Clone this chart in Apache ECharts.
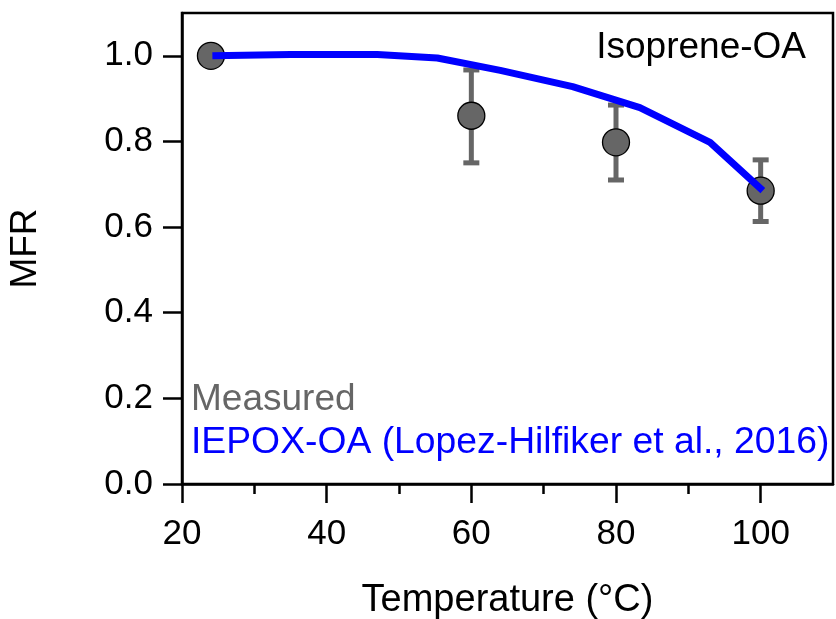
<!DOCTYPE html>
<html>
<head>
<meta charset="utf-8">
<script src="https://cdn.jsdelivr.net/npm/echarts@6/dist/echarts.min.js"></script>
<style>
html,body{margin:0;padding:0;background:#fff;}
#chart{width:836px;height:619px;}
</style>
</head>
<body>
<div id="chart"></div>
<script>
// Measured data
var measuredT = [24, 60, 80, 100];
var measuredMFR = [1.0, 0.86, 0.798, 0.685];
var errLow = [null, 0.750, 0.710, 0.613];
var errHigh = [null, 0.967, 0.885, 0.757];

// IEPOX-OA curve (Lopez-Hilfiker et al., 2016)
var iepoxT = [24.2, 35, 47, 55.3, 64, 74, 83.3, 93, 100.3];
var iepoxMFR = [1.0, 1.003, 1.003, 0.995, 0.966, 0.928, 0.879, 0.798, 0.685];

var xMajorTicks = [20, 40, 60, 80, 100];
var xMinorTicks = [30, 50, 70, 90];
var yTicks = [0, 0.2, 0.4, 0.6, 0.8, 1.0];

var FONT = 'Liberation Sans, Arial, sans-serif';

var chart = echarts.init(document.getElementById('chart'), null, {renderer: 'canvas'});

var errData = [];
for (var i = 0; i < measuredT.length; i++) {
  if (errLow[i] != null) errData.push([measuredT[i], errLow[i], errHigh[i]]);
}
var measData = measuredT.map(function (t, i) { return [t, measuredMFR[i]]; });
var iepoxData = iepoxT.map(function (t, i) { return [t, iepoxMFR[i]]; });

var option = {
  animation: false,
  backgroundColor: '#fff',
  grid: {
    left: 182, right: 3, top: 13, bottom: 135,
    outerBoundsMode: 'none', containLabel: false,
    show: true, borderColor: '#000', borderWidth: 2.5, backgroundColor: 'transparent'
  },
  xAxis: [
    {
      type: 'value', min: 20, max: 110, interval: 20,
      name: 'Temperature (°C)', nameLocation: 'middle', nameGap: 98,
      nameTextStyle: {fontFamily: FONT, fontSize: 38, color: '#000'},
      axisLine: {show: true, lineStyle: {color: '#000', width: 2.5}},
      axisTick: {show: true, inside: false, length: 19, lineStyle: {color: '#000', width: 2.5}, customValues: xMajorTicks},
      axisLabel: {show: true, margin: 33, fontFamily: FONT, fontSize: 35, color: '#000', customValues: xMajorTicks},
      splitLine: {show: false}
    },
    {
      type: 'value', min: 20, max: 110, interval: 10, position: 'bottom',
      axisLine: {show: false},
      axisTick: {show: true, inside: false, length: 10, lineStyle: {color: '#000', width: 2.5}, customValues: xMinorTicks},
      axisLabel: {show: false},
      splitLine: {show: false}
    }
  ],
  yAxis: {
    type: 'value', min: 0, max: 1.1, interval: 0.2,
    name: 'MFR', nameLocation: 'middle', nameGap: 138, nameRotate: 90,
    nameTextStyle: {fontFamily: FONT, fontSize: 37, color: '#000'},
    axisLine: {show: true, lineStyle: {color: '#000', width: 2.5}},
    axisTick: {show: true, inside: false, length: 19, lineStyle: {color: '#000', width: 2.5}, customValues: yTicks},
    axisLabel: {show: true, margin: 29, fontFamily: FONT, fontSize: 35, color: '#000', customValues: yTicks,
      formatter: function (v) { return v.toFixed(1); }},
    splitLine: {show: false}
  },
  series: [
    {
      type: 'custom', name: 'err', z: 2,
      data: errData,
      renderItem: function (params, api) {
        var x = api.value(0);
        var lo = api.coord([x, api.value(1)]);
        var hi = api.coord([x, api.value(2)]);
        var cw = 8;
        var style = {stroke: '#666666', lineWidth: 5, fill: null};
        return {
          type: 'group',
          children: [
            {type: 'line', shape: {x1: lo[0], y1: lo[1], x2: hi[0], y2: hi[1]}, style: style},
            {type: 'line', shape: {x1: lo[0] - cw, y1: lo[1], x2: lo[0] + cw, y2: lo[1]}, style: style},
            {type: 'line', shape: {x1: hi[0] - cw, y1: hi[1], x2: hi[0] + cw, y2: hi[1]}, style: style}
          ]
        };
      }
    },
    {
      type: 'scatter', name: 'Measured', z: 3,
      data: measData, symbol: 'circle', symbolSize: 27,
      itemStyle: {color: '#666666', borderColor: '#000', borderWidth: 1.3, opacity: 1}
    },
    {
      type: 'line', name: 'IEPOX-OA', z: 4,
      data: iepoxData, showSymbol: false, symbol: 'none',
      lineStyle: {color: '#0000ff', width: 7, cap: 'butt', join: 'round'}
    }
  ],
  graphic: [
    {type: 'text', right: 836 - 806, top: 29, style: {text: 'Isoprene-OA', font: '37px ' + FONT, fill: '#000'}},
    {type: 'text', left: 191, top: 381, style: {text: 'Measured', font: '37px ' + FONT, fill: '#666666'}},
    {type: 'text', left: 191, top: 424, style: {text: 'IEPOX-OA (Lopez-Hilfiker et al., 2016)', font: '37.3px ' + FONT, fill: '#0000ff'}}
  ]
};
chart.setOption(option);
</script>
</body>
</html>
